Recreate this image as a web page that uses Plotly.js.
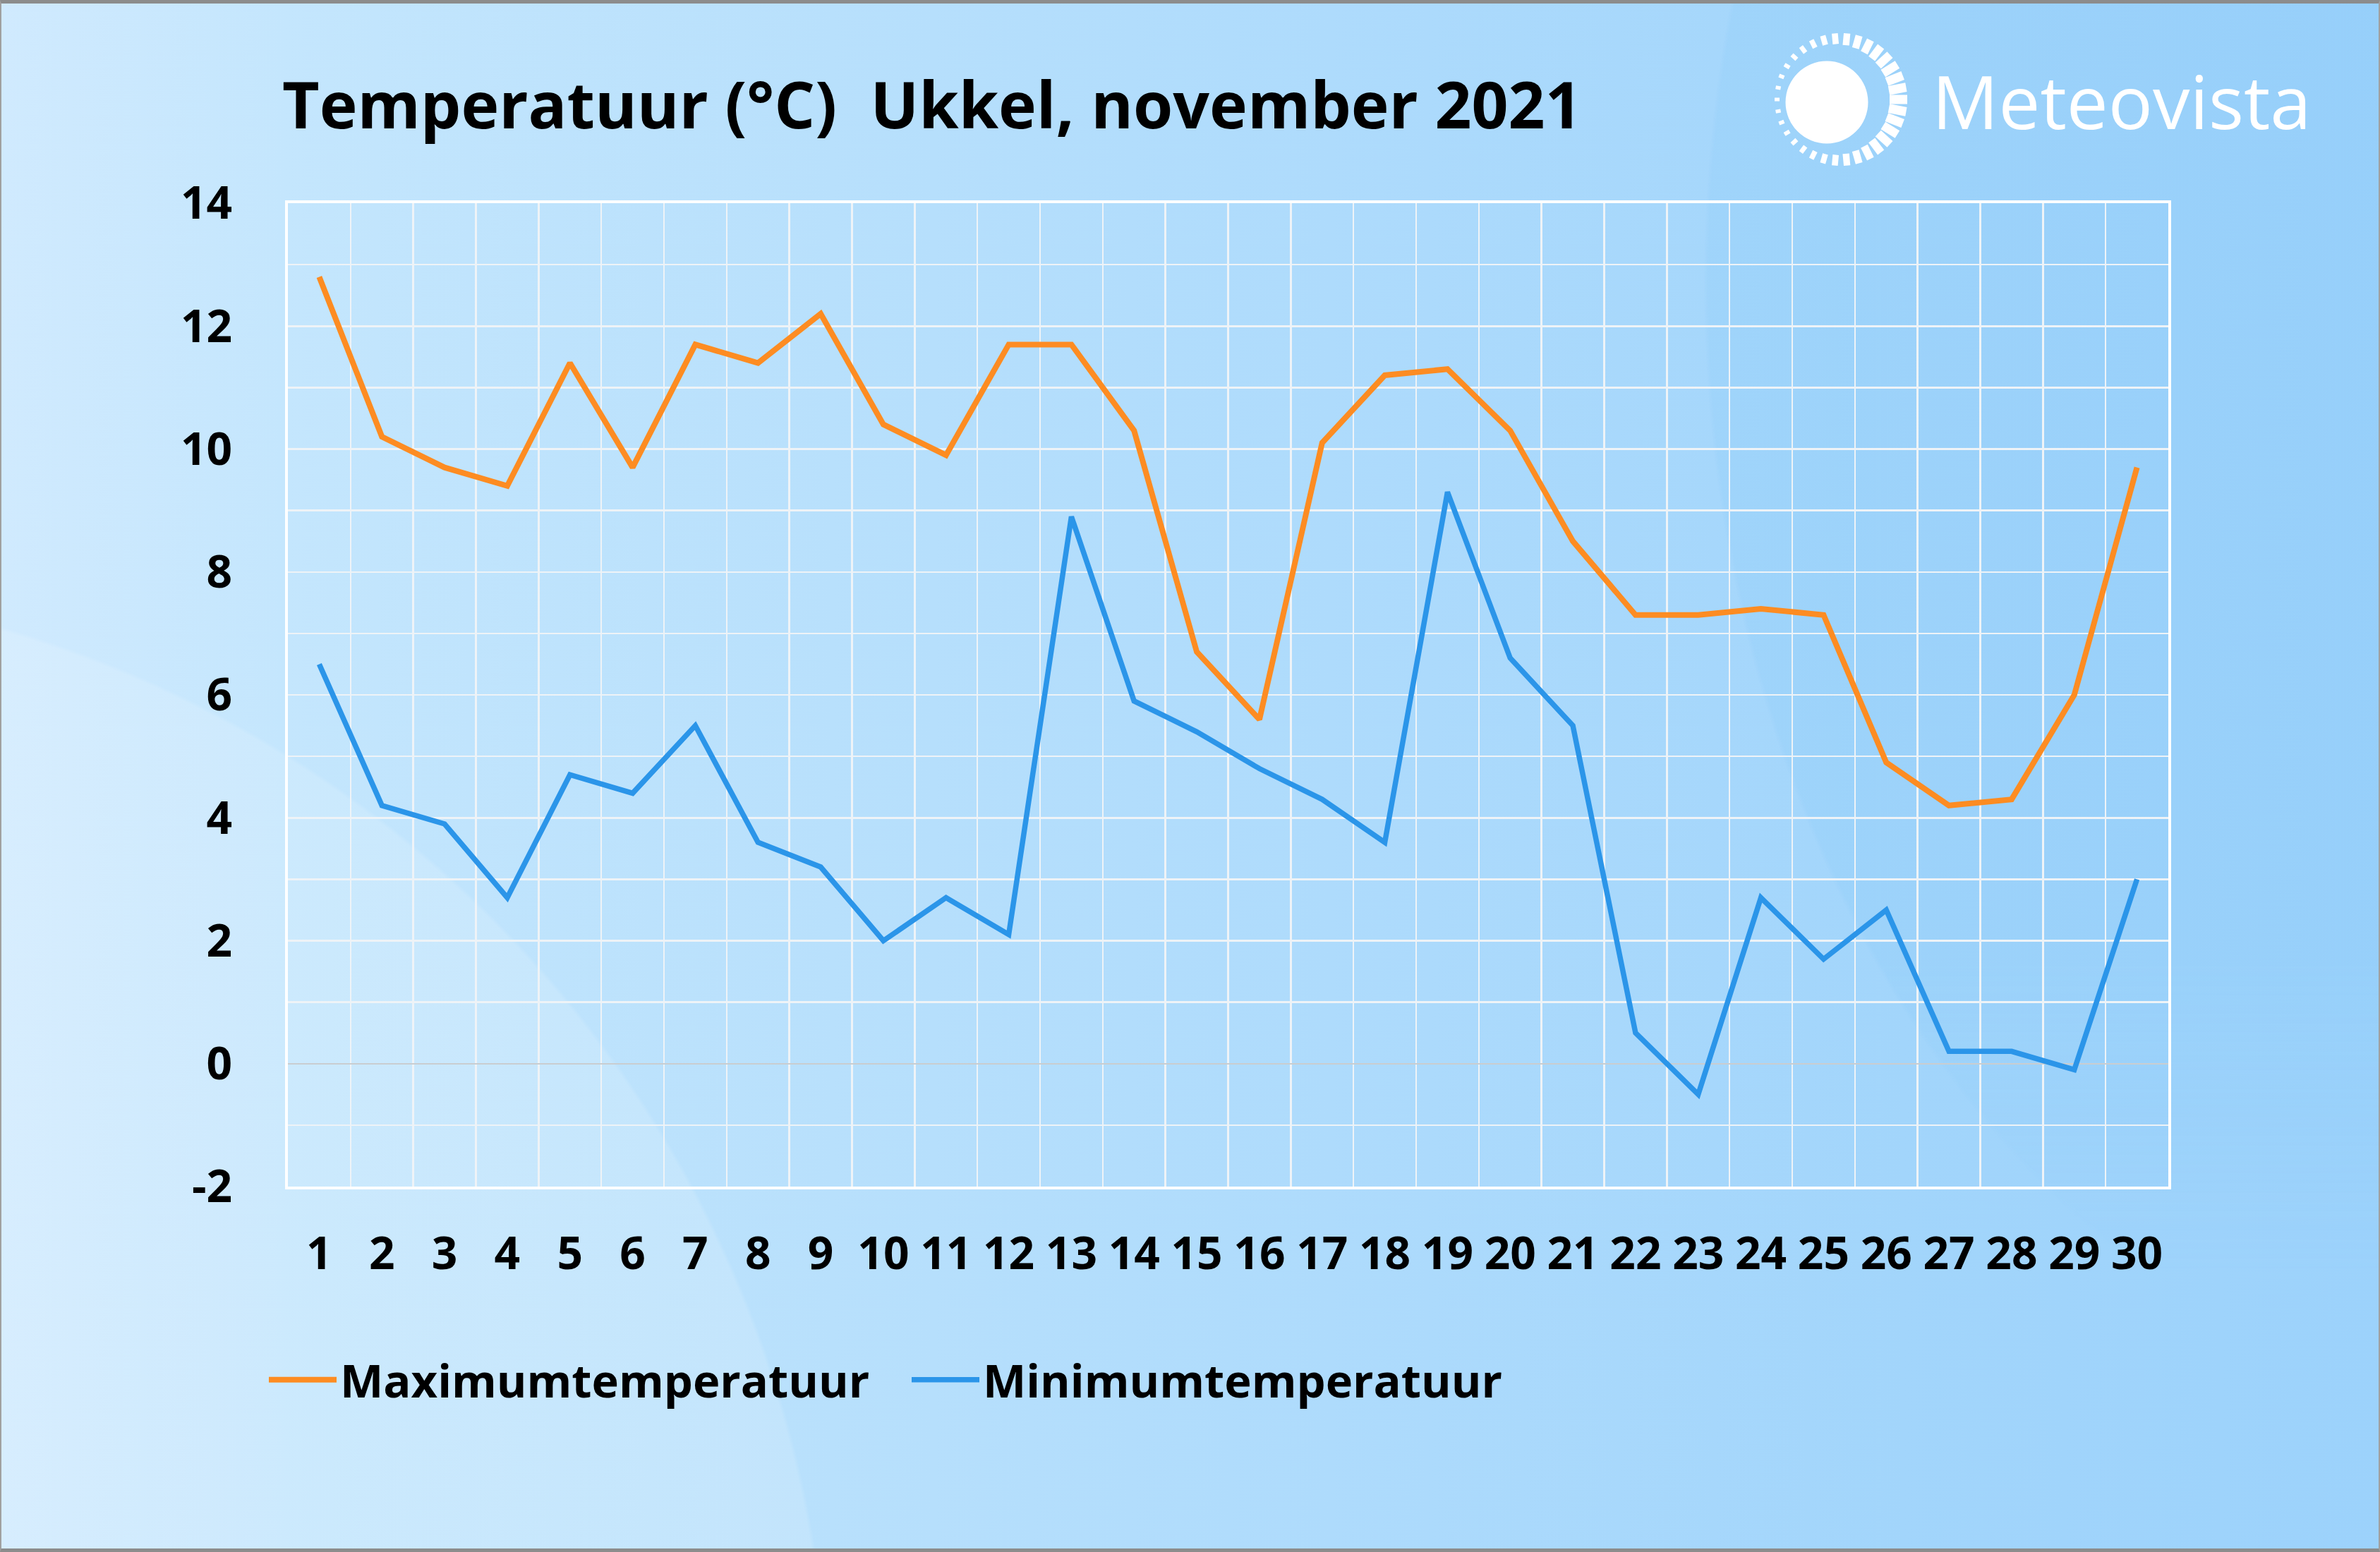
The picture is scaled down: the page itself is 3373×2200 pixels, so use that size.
<!DOCTYPE html>
<html>
<head>
<meta charset="utf-8">
<script src="https://cdn.plot.ly/plotly-3.0.1.min.js"></script>
<style>
  html, body { margin: 0; padding: 0; }
  #wrap {
    position: relative; width: 3373px; height: 2200px; overflow: hidden;
    background:
      radial-gradient(circle at -450px 2450px, rgba(255,255,255,0.14) 1620px, rgba(255,255,255,0) 1626px),
      linear-gradient(90deg, #d0eafe 0%, #c4e6fd 12%, #b8e0fc 35%, #acdafc 60%, #a2d5fb 80%, #9cd2fb 100%);
  }
  #rightglow {
    position: absolute; left: 0; top: 0; width: 3373px; height: 2200px;
    background: radial-gradient(ellipse 1200px 1600px at 3615px 400px, rgba(120,195,248,0.13) 99.5%, rgba(120,195,248,0) 100%);
    -webkit-mask-image: linear-gradient(180deg, #000 0%, #000 62%, transparent 82%);
    mask-image: linear-gradient(180deg, #000 0%, #000 62%, transparent 82%);
  }
  #frame {
    position: absolute; left: 0; top: 0; width: 3373px; height: 2200px; box-sizing: border-box;
    border-top: 5px solid #8c8c8c; border-bottom: 5px solid #8c8c8c;
    border-left: 2px solid #a0a0a0; border-right: 2px solid #a0a0a0;
    pointer-events: none;
  }
  #chart { position: absolute; left: 0; top: 0; width: 3373px; height: 2200px; }
</style>
</head>
<body>
<div id="wrap">
  <div id="rightglow"></div>
  <div id="chart"></div>
  <div id="frame"></div>
</div>
<script>
// ---- data ----
const days = [1,2,3,4,5,6,7,8,9,10,11,12,13,14,15,16,17,18,19,20,21,22,23,24,25,26,27,28,29,30];
const maxTemp = [12.8,10.2,9.7,9.4,11.4,9.7,11.7,11.4,12.2,10.4,9.9,11.7,11.7,10.3,6.7,5.6,10.1,11.2,11.3,10.3,8.5,7.3,7.3,7.4,7.3,4.9,4.2,4.3,6.0,9.7];
const minTemp = [6.5,4.2,3.9,2.7,4.7,4.4,5.5,3.6,3.2,2.0,2.7,2.1,8.9,5.9,5.4,4.8,4.3,3.6,9.3,6.6,5.5,0.5,-0.5,2.7,1.7,2.5,0.2,0.2,-0.1,3.0];
const seriesNames = ["Maximumtemperatuur", "Minimumtemperatuur"];
const yTicks = [-2,0,2,4,6,8,10,12,14];
const titleText = "Temperatuur (°C)\u00A0\u00A0Ukkel, november 2021";
const brandText = "Meteovista";

// ---- layout helpers (pixel -> paper) ----
const W = 3373, H = 2200;
const L = 408, R = 3073, T = 288, B = 1682;
const PX = p => (p - L) / (R - L);
const PY = p => (B - p) / (B - T);

const FONT = '"Open Sans", "Noto Sans", sans-serif';

const traces = [
  { x: days.map(String), y: maxTemp, name: seriesNames[0], type: 'scatter', mode: 'lines',
    line: { color: '#fd8c22', width: 8 } },
  { x: days.map(String), y: minTemp, name: seriesNames[1], type: 'scatter', mode: 'lines',
    line: { color: '#2b95e9', width: 7.5 } }
];

// sun logo (decoration)
const shapes = [];
const sunCx = 2589, sunCy = 145, sunR = 58.5;
shapes.push({ type: 'circle', xref: 'paper', yref: 'paper',
  x0: PX(sunCx - sunR), x1: PX(sunCx + sunR), y0: PY(sunCy + sunR), y1: PY(sunCy - sunR),
  fillcolor: '#ffffff', line: { width: 0 } });
const ringCx = 2609, ringCy = 141, ringOuter = 94, nDash = 34;
for (let i = 0; i < nDash; i++) {
  const a = (i / nDash) * 2 * Math.PI;           // 0 = right
  const k = (1 + Math.cos(a)) / 2;               // 1 on right, 0 on left
  const len = 7 + 18 * k;
  const wid = 5 + 8 * k;
  const ro = ringOuter, ri = ro - len;
  shapes.push({ type: 'line', xref: 'paper', yref: 'paper',
    x0: PX(ringCx + ri * Math.cos(a)), y0: PY(ringCy - ri * Math.sin(a)),
    x1: PX(ringCx + ro * Math.cos(a)), y1: PY(ringCy - ro * Math.sin(a)),
    line: { color: '#ffffff', width: wid } });
}

const layout = {
  width: W, height: H,
  paper_bgcolor: 'rgba(0,0,0,0)', plot_bgcolor: 'rgba(0,0,0,0)',
  margin: { l: L, r: W - R, t: T, b: H - B, pad: 0 },
  font: { family: FONT, color: '#000000' },
  title: { text: titleText, font: { family: FONT, size: 91, color: '#000000', weight: 700 },
    xref: 'container', yref: 'container', x: 400 / W, xanchor: 'left', y: 1 - 150 / H, yanchor: 'middle' },
  xaxis: {
    type: 'category', tickson: 'boundaries', range: [-0.5, 29.5], autorange: false,
    showgrid: true, gridcolor: '#eef3f7', gridwidth: 2.5,
    showline: true, linecolor: '#ffffff', linewidth: 4, mirror: true, ticks: '',
    tickfont: { family: FONT, size: 64, color: '#000000', weight: 700 },
    ticklabelstandoff: 36, zeroline: false, fixedrange: true
  },
  yaxis: {
    range: [-2, 14], autorange: false, tickmode: 'array', tickvals: yTicks, ticktext: yTicks.map(String),
    showgrid: true, gridcolor: '#eef3f7', gridwidth: 2.5,
    minor: { dtick: 1, tick0: 0, showgrid: true, gridcolor: '#eef3f7', gridwidth: 2.5, ticks: '' },
    zeroline: true, zerolinecolor: '#c9cdd0', zerolinewidth: 2.5,
    showline: true, linecolor: '#ffffff', linewidth: 4, mirror: true, ticks: '',
    tickfont: { family: FONT, size: 64, color: '#000000', weight: 700 },
    ticklabelstandoff: 62, fixedrange: true
  },
  showlegend: true,
  legend: {
    orientation: 'h', xref: 'paper', yref: 'paper', x: PX(376), xanchor: 'left', y: PY(1956), yanchor: 'middle',
    font: { family: FONT, size: 65, color: '#000000', weight: 700 },
    bgcolor: 'rgba(0,0,0,0)', itemwidth: 96, entrywidth: 800, entrywidthmode: 'pixels',
    traceorder: 'normal'
  },
  annotations: [
    { text: brandText, xref: 'paper', yref: 'paper', x: PX(2736), xanchor: 'left', y: PY(142), yanchor: 'middle',
      showarrow: false, font: { family: FONT, size: 105, color: '#ffffff' } }
  ],
  shapes: shapes
};

Plotly.newPlot('chart', traces, layout, { displayModeBar: false, staticPlot: true });
</script>
</body>
</html>
